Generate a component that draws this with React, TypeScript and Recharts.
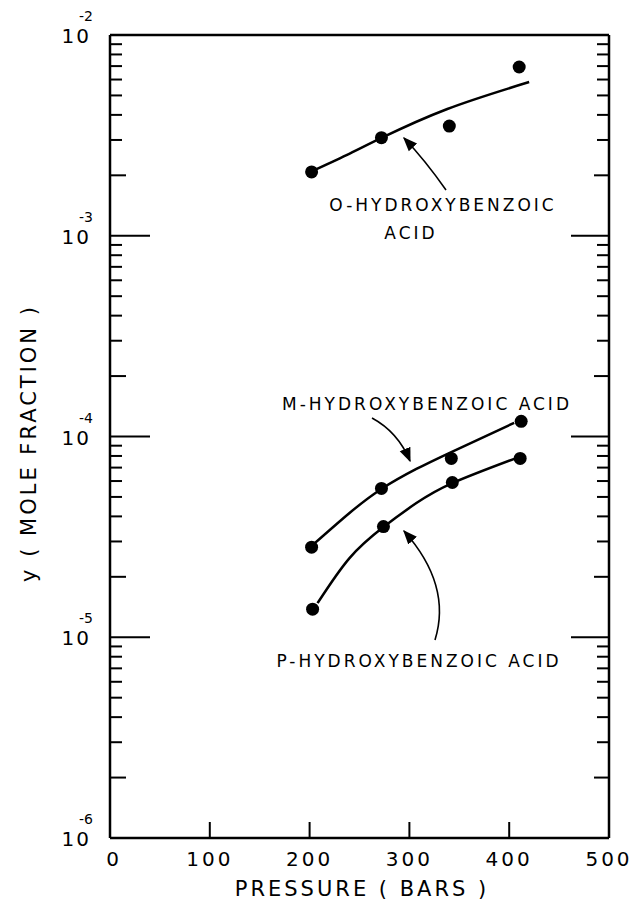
import {
  ComposedChart,
  Line,
  Scatter,
  XAxis,
  YAxis,
} from "recharts";

// measured points (pressure in bars, mole fraction)
const oPressure = [202, 272, 340, 410];
const oFraction = [2.08e-3, 3.08e-3, 3.52e-3, 6.93e-3];
const mPressure = [202, 272, 342, 412];
const mFraction = [2.81e-5, 5.51e-5, 7.78e-5, 1.19e-4];
const pPressure = [203, 274, 343, 411];
const pFraction = [1.38e-5, 3.56e-5, 5.9e-5, 7.78e-5];

// hand-drawn fit curves
const oCurveP = [201, 237, 272, 338, 420];
const oCurveY = [2.08e-3, 2.52e-3, 3.07e-3, 4.28e-3, 5.83e-3];
const mCurveP = [202, 240, 272, 307, 342, 405];
const mCurveY = [2.85e-5, 4.16e-5, 5.48e-5, 6.89e-5, 8.37e-5, 1.17e-4];
const pCurveP = [208, 240, 274, 307, 343, 407];
const pCurveY = [1.48e-5, 2.48e-5, 3.54e-5, 4.66e-5, 5.86e-5, 7.81e-5];

const xTicks = [0, 100, 200, 300, 400, 500];
const decades = [-6, -5, -4, -3, -2];
const mantissas = [1, 2, 3, 4, 5, 6, 7, 8, 9];

const yTicks: number[] = [];
decades.forEach((d) => {
  mantissas.forEach((m) => {
    if (d === -2 && m > 1) return;
    yTicks.push(m * Math.pow(10, d));
  });
});

const zip = (xs: number[], ys: number[]) =>
  xs.map((x, i) => ({ x, y: ys[i] }));

const FONT = "'DejaVu Sans', sans-serif";
const W = 632;
const H = 900;
const M = { top: 25, right: 13, bottom: 32, left: 50 };

const mantissaOf = (v: number) => {
  const e = Math.floor(Math.log10(v) + 1e-9);
  return { m: Math.round(v / Math.pow(10, e)), e };
};

const LeftTick = (props: any) => {
  const { x, y, payload } = props;
  const { m, e } = mantissaOf(payload.value);
  const len = m === 1 ? 40 : m === 2 ? 16 : 12;
  return (
    <g>
      <line x1={x} x2={x + len} y1={y} y2={y} stroke="#000" strokeWidth={2} />
      {m === 1 && (
        <g fontFamily={FONT} fill="#000">
          <text x={x - 19} y={y + 8} fontSize={20} letterSpacing={2} textAnchor="end">
            10
          </text>
          <text x={x - 31} y={y - 14} fontSize={14}>
            {e}
          </text>
        </g>
      )}
    </g>
  );
};

const RightTick = (props: any) => {
  const { x, y, payload } = props;
  const { m } = mantissaOf(payload.value);
  const len = m === 1 ? 38 : m === 2 ? 15 : 12;
  return (
    <line x1={x} x2={x - len} y1={y} y2={y} stroke="#000" strokeWidth={2} />
  );
};

const BottomTick = (props: any) => {
  const { x, y, payload } = props;
  const v = payload.value;
  return (
    <g>
      {v > 0 && v < 500 && (
        <line x1={x} x2={x} y1={y} y2={y - 16} stroke="#000" strokeWidth={2} />
      )}
      <text
        x={v === 0 ? x + 4 : x}
        y={y + 28}
        textAnchor="middle"
        fontFamily={FONT}
        fontSize={20}
        letterSpacing={3}
        fill="#000"
      >
        {v}
      </text>
    </g>
  );
};

const TopTick = (props: any) => {
  const { x, y, payload } = props;
  const v = payload.value;
  if (v <= 0 || v >= 500) return <g />;
  return <line x1={x} x2={x} y1={y} y2={y + 6} stroke="#000" strokeWidth={1.5} />;
};

const Dot = (props: any) => {
  const { cx, cy } = props;
  return <circle cx={cx} cy={cy} r={6.5} fill="#000" />;
};

const labelStyle = {
  fontFamily: FONT,
  fontSize: 17,
  letterSpacing: 3,
  fill: "#000",
};

export default function App() {
  return (
    <div
      style={{
        position: "absolute",
        left: 0,
        top: 0,
        width: W,
        height: H,
        background: "#fff",
      }}
    >
      <ComposedChart width={W} height={H} margin={M}>
        <XAxis
          xAxisId="b"
          type="number"
          dataKey="x"
          domain={[0, 500]}
          ticks={xTicks}
          interval={0}
          height={30}
          tickSize={0}
          tickMargin={0}
          tickLine={false}
          axisLine={{ stroke: "#000", strokeWidth: 2.5 }}
          tick={<BottomTick />}
        />
        <XAxis
          xAxisId="t"
          orientation="top"
          type="number"
          dataKey="x"
          domain={[0, 500]}
          ticks={xTicks}
          interval={0}
          height={10}
          tickSize={0}
          tickMargin={0}
          tickLine={false}
          axisLine={{ stroke: "#000", strokeWidth: 2.5 }}
          tick={<TopTick />}
        />
        <YAxis
          yAxisId="l"
          type="number"
          dataKey="y"
          scale="log"
          domain={[1e-6, 1e-2]}
          allowDataOverflow
          ticks={yTicks}
          interval={0}
          width={60}
          tickSize={0}
          tickMargin={0}
          tickLine={false}
          axisLine={{ stroke: "#000", strokeWidth: 2.5 }}
          tick={<LeftTick />}
        />
        <YAxis
          yAxisId="r"
          orientation="right"
          type="number"
          scale="log"
          domain={[1e-6, 1e-2]}
          allowDataOverflow
          ticks={yTicks}
          interval={0}
          width={10}
          tickSize={0}
          tickMargin={0}
          tickLine={false}
          axisLine={{ stroke: "#000", strokeWidth: 2.5 }}
          tick={<RightTick />}
        />
        <Line
          xAxisId="b"
          yAxisId="l"
          data={zip(oCurveP, oCurveY)}
          dataKey="y"
          type="natural"
          stroke="#000"
          strokeWidth={2.5}
          dot={false}
          isAnimationActive={false}
        />
        <Line
          xAxisId="b"
          yAxisId="l"
          data={zip(mCurveP, mCurveY)}
          dataKey="y"
          type="natural"
          stroke="#000"
          strokeWidth={2.5}
          dot={false}
          isAnimationActive={false}
        />
        <Line
          xAxisId="b"
          yAxisId="l"
          data={zip(pCurveP, pCurveY)}
          dataKey="y"
          type="natural"
          stroke="#000"
          strokeWidth={2.5}
          dot={false}
          isAnimationActive={false}
        />
        <Scatter
          xAxisId="b"
          yAxisId="l"
          data={zip(oPressure, oFraction)}
          shape={<Dot />}
          isAnimationActive={false}
        />
        <Scatter
          xAxisId="b"
          yAxisId="l"
          data={zip(mPressure, mFraction)}
          shape={<Dot />}
          isAnimationActive={false}
        />
        <Scatter
          xAxisId="b"
          yAxisId="l"
          data={zip(pPressure, pFraction)}
          shape={<Dot />}
          isAnimationActive={false}
        />
      </ComposedChart>
      <svg
        width={W}
        height={H}
        style={{ position: "absolute", left: 0, top: 0, pointerEvents: "none" }}
      >
        <defs>
          <marker
            id="arr"
            viewBox="0 0 10 10"
            refX="9"
            refY="5"
            markerWidth="9"
            markerHeight="9"
            orient="auto"
          >
            <path d="M0,1 L10,5 L0,9 Z" fill="#000" />
          </marker>
        </defs>
        <g fill="none" stroke="#000" strokeWidth={1.6}>
          <path d="M446,190 Q425,160 404,138" markerEnd="url(#arr)" />
          <path d="M372,418 Q398,432 410,461" markerEnd="url(#arr)" />
          <path d="M435,640 Q452,585 404,531" markerEnd="url(#arr)" />
        </g>
        <text x={443} y={211} textAnchor="middle" {...labelStyle}>
          O-HYDROXYBENZOIC
        </text>
        <text x={411} y={239} textAnchor="middle" {...labelStyle}>
          ACID
        </text>
        <text x={427} y={410} textAnchor="middle" {...labelStyle}>
          M-HYDROXYBENZOIC ACID
        </text>
        <text x={419} y={667} textAnchor="middle" {...labelStyle}>
          P-HYDROXYBENZOIC ACID
        </text>
        <text
          x={362}
          y={896}
          textAnchor="middle"
          fontFamily={FONT}
          fontSize={21}
          letterSpacing={3}
          fill="#000"
        >
          PRESSURE ( BARS )
        </text>
        <text
          x={36}
          y={443}
          textAnchor="middle"
          fontFamily={FONT}
          fontSize={21}
          letterSpacing={3}
          fill="#000"
          transform="rotate(-90 36 443)"
        >
          y ( MOLE FRACTION )
        </text>
      </svg>
    </div>
  );
}
